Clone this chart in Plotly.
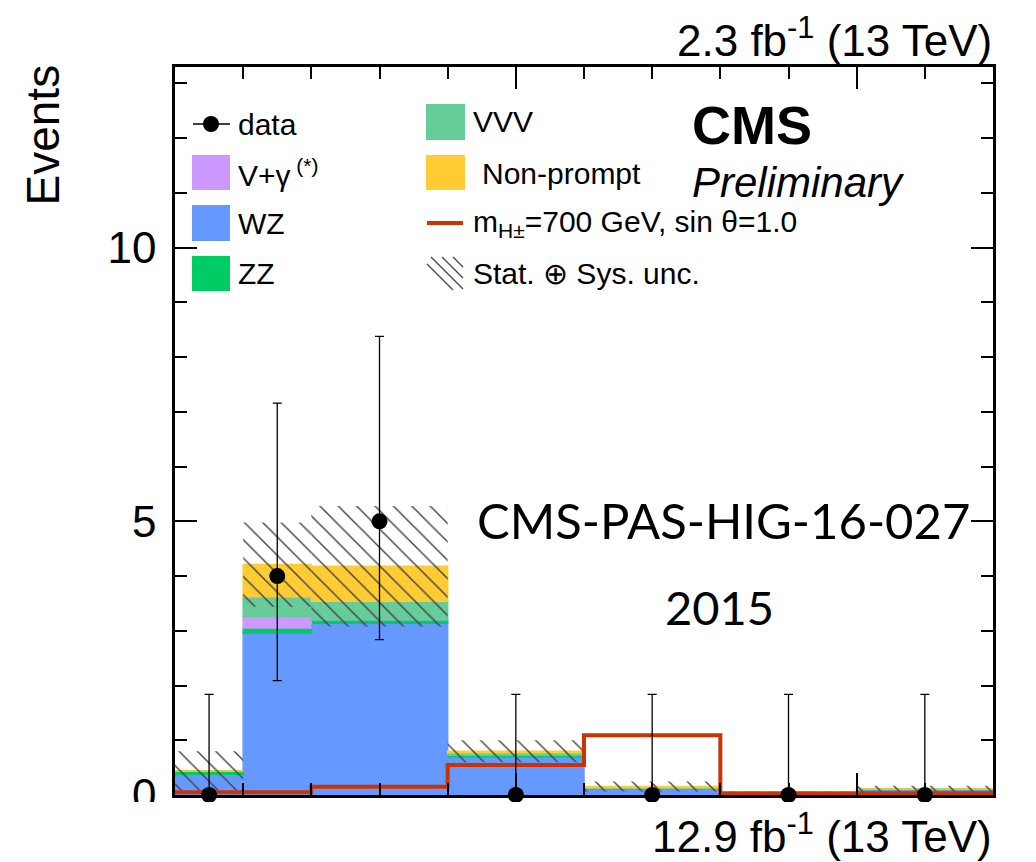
import plotly.graph_objects as go

# ---- binning (variable width) ----
bin_edges = [0, 1, 2, 4, 6, 8, 10, 12]

# ---- stacked backgrounds (events per bin) ----
wz = [0.38, 2.96, 3.14, 0.70, 0.12, 0.01, 0.10]
zz = [0.06, 0.09, 0.06, 0.03, 0.005, 0.0, 0.005]
vgamma = [0.0, 0.21, 0.0, 0.0, 0.0, 0.0, 0.0]
vvv = [0.0, 0.36, 0.34, 0.04, 0.01, 0.0, 0.005]
nonprompt = [0.0, 0.59, 0.64, 0.03, 0.02, 0.0, 0.0]

# total background uncertainty (stat + syst)
bkg_unc = [0.36, 0.77, 1.10, 0.20, 0.09, 0.05, 0.06]

# ---- signal: m_H+- = 700 GeV, sin(theta) = 1.0 ----
signal = [0.05, 0.05, 0.15, 0.55, 1.09, 0.03, 0.03]

# ---- observed data with asymmetric Poisson errors ----
data = [0, 4, 5, 0, 0, 0, 0]
data_err_hi = [1.84, 3.16, 3.38, 1.84, 1.84, 1.84, 1.84]
data_err_lo = [0.0, 1.91, 2.16, 0.0, 0.0, 0.0, 0.0]

y_ticks = [0, 5, 10]

# ---- styles ----
C_VG = "#cc99ff"
C_WZ = "#6699ff"
C_ZZ = "#00cc66"
C_VVV = "#66cc99"
C_NP = "#ffcc33"
C_SIG = "#cc3300"
HATCH = "#444444"
FONT = "Liberation Sans, Arial, sans-serif"

W, H = 1036, 862
L, R, T, B = 175, 993, 67, 795  # plot frame in pixels

centers = [(a + b) / 2 for a, b in zip(bin_edges[:-1], bin_edges[1:])]
widths = [b - a for a, b in zip(bin_edges[:-1], bin_edges[1:])]

fig = go.Figure()

# stacked histogram, bottom to top
stack = [("WZ", wz, C_WZ), ("ZZ", zz, C_ZZ), ("V+γ", vgamma, C_VG),
         ("VVV", vvv, C_VVV), ("Non-prompt", nonprompt, C_NP)]
base = [0.0] * len(centers)
for name, vals, col in stack:
    fig.add_trace(go.Bar(x=centers, y=vals, width=widths, base=list(base),
                         marker=dict(color=col, line=dict(color=col, width=1.5)),
                         name=name, showlegend=False))
    base = [b + v for b, v in zip(base, vals)]
total = base

# hatched uncertainty band
unc_lo = [max(t - u, 0.0) for t, u in zip(total, bkg_unc)]
unc_h = [t + u - lo for t, u, lo in zip(total, bkg_unc, unc_lo)]
fig.add_trace(go.Bar(
    x=centers, y=unc_h, width=widths, base=unc_lo,
    marker=dict(color="rgba(0,0,0,0)", line=dict(width=0),
                pattern=dict(shape="\\", fgcolor=HATCH, bgcolor="rgba(0,0,0,0)",
                             size=13, solidity=0.11, fillmode="replace")),
    showlegend=False))

# signal step line
fig.add_trace(go.Scatter(x=bin_edges, y=signal + [signal[-1]], mode="lines",
                         line=dict(color=C_SIG, width=4, shape="hv"),
                         showlegend=False))

# data points
fig.add_trace(go.Scatter(
    x=centers, y=data, mode="markers",
    marker=dict(color="black", size=16),
    error_y=dict(type="data", symmetric=False, array=data_err_hi,
                 arrayminus=data_err_lo, color="black", thickness=1.3, width=4.5),
    cliponaxis=False, showlegend=False))


def px(xp):
    return (xp - L) / (R - L)


def py(yp):
    return (B - yp) / (B - T)


shapes = []
annotations = []

# ---- legend ----
LEG_FONT = dict(family=FONT, size=30, color="black")


def box(x0, y0, x1, y1, col):
    shapes.append(dict(type="rect", xref="paper", yref="paper",
                       x0=px(x0), x1=px(x1), y0=py(y1), y1=py(y0),
                       fillcolor=col, line=dict(width=0)))


def label(x, y, text):
    annotations.append(dict(x=px(x), y=py(y), xref="paper", yref="paper",
                            text=text, showarrow=False, xanchor="left",
                            yanchor="middle", font=LEG_FONT))


# data entry
shapes.append(dict(type="line", xref="paper", yref="paper",
                   x0=px(193), x1=px(230), y0=py(124), y1=py(124),
                   line=dict(color="black", width=1.5)))
shapes.append(dict(type="circle", xref="paper", yref="paper",
                   x0=px(203), x1=px(219), y0=py(132), y1=py(116),
                   fillcolor="black", line=dict(width=0)))
label(236, 124, "data")

box(192, 155, 230, 190, C_VG)
label(236, 173, "V+γ<sup> (*)</sup>")
box(192, 205, 230, 241, C_WZ)
label(236, 223, "WZ")
box(192, 256, 230, 291, C_ZZ)
label(236, 273, "ZZ")

box(426, 104, 465, 140, C_VVV)
label(471, 122, "VVV")
box(426, 155, 465, 190, C_NP)
label(480, 173, "Non-prompt")
shapes.append(dict(type="line", xref="paper", yref="paper",
                   x0=px(427), x1=px(463), y0=py(223), y1=py(223),
                   line=dict(color=C_SIG, width=4)))
label(471, 223, "m<sub>H±</sub>=700 GeV, sin θ=1.0")
# hatch swatch
for k in range(4):
    xs = 420 + k * 11
    shapes.append(dict(type="line", xref="paper", yref="paper",
                       x0=px(max(xs, 427)), y0=py(257 + max(0, 427 - xs)),
                       x1=px(min(xs + 33, 463)), y1=py(min(290, 257 + min(xs + 33, 463) - xs)),
                       line=dict(color=HATCH, width=1.2)))
label(471, 273, "Stat. ⊕ Sys. unc.")

# white strip below the frame (the lower luminosity label sits on it)
shapes.append(dict(type="rect", xref="paper", yref="paper", layer="above",
                   x0=px(0), x1=px(W), y0=py(H), y1=py(802),
                   fillcolor="white", line=dict(width=0)))

# ---- CMS labels ----
annotations.append(dict(x=px(690), y=py(125), xref="paper", yref="paper",
                        text="<b>CMS</b>", showarrow=False, xanchor="left",
                        yanchor="middle", font=dict(family=FONT, size=54, color="black")))
annotations.append(dict(x=px(690), y=py(182), xref="paper", yref="paper",
                        text="<i>Preliminary</i>", showarrow=False, xanchor="left",
                        yanchor="middle", font=dict(family=FONT, size=42, color="black")))
annotations.append(dict(x=px(994), y=py(38), xref="paper", yref="paper",
                        text="2.3 fb<sup>-1</sup> (13 TeV)", showarrow=False,
                        xanchor="right", yanchor="middle",
                        font=dict(family=FONT, size=44, color="black")))
annotations.append(dict(x=px(994), y=py(833), xref="paper", yref="paper",
                        text="12.9 fb<sup>-1</sup> (13 TeV)", showarrow=False,
                        xanchor="right", yanchor="middle",
                        font=dict(family=FONT, size=44, color="black")))
annotations.append(dict(x=px(723), y=py(520), xref="paper", yref="paper",
                        text="CMS-PAS-HIG-16-027", showarrow=False,
                        xanchor="center", yanchor="middle",
                        font=dict(family="Lato, sans-serif", size=49, color="black")))
annotations.append(dict(x=px(719), y=py(607), xref="paper", yref="paper",
                        text="2015", showarrow=False,
                        xanchor="center", yanchor="middle",
                        font=dict(family="Lato, sans-serif", size=47, color="black")))
# y-axis title, aligned to the top
annotations.append(dict(x=px(42), y=py(63), xref="paper", yref="paper",
                        text="Events", showarrow=False, textangle=-90,
                        xanchor="center", yanchor="top",
                        font=dict(family=FONT, size=46, color="black")))

axis_common = dict(showline=True, linecolor="black", linewidth=2.5, mirror="allticks",
                   ticks="inside", tickcolor="black", tickwidth=1.5, showgrid=False,
                   zeroline=False)

fig.update_layout(
    width=W, height=H,
    margin=dict(l=L, r=W - R, t=T, b=H - B, pad=0),
    plot_bgcolor="white", paper_bgcolor="white",
    barmode="overlay",
    showlegend=False,
    shapes=shapes, annotations=annotations,
    xaxis=dict(range=[bin_edges[0], bin_edges[-1]], dtick=5, tick0=0, ticklen=22,
               showticklabels=False,
               minor=dict(dtick=1, ticklen=12, ticks="inside", tickcolor="black",
                          tickwidth=1.5, showgrid=False),
               **axis_common),
    yaxis=dict(range=[0, 13.3], tickvals=y_ticks, ticktext=[str(v) for v in y_ticks],
               ticklen=22, ticklabelstandoff=7,
               tickfont=dict(family=FONT, size=44, color="black"),
               minor=dict(dtick=1, ticklen=12, ticks="inside", tickcolor="black",
                          tickwidth=1.5, showgrid=False),
               **axis_common),
)

fig.write_html("out.html")
